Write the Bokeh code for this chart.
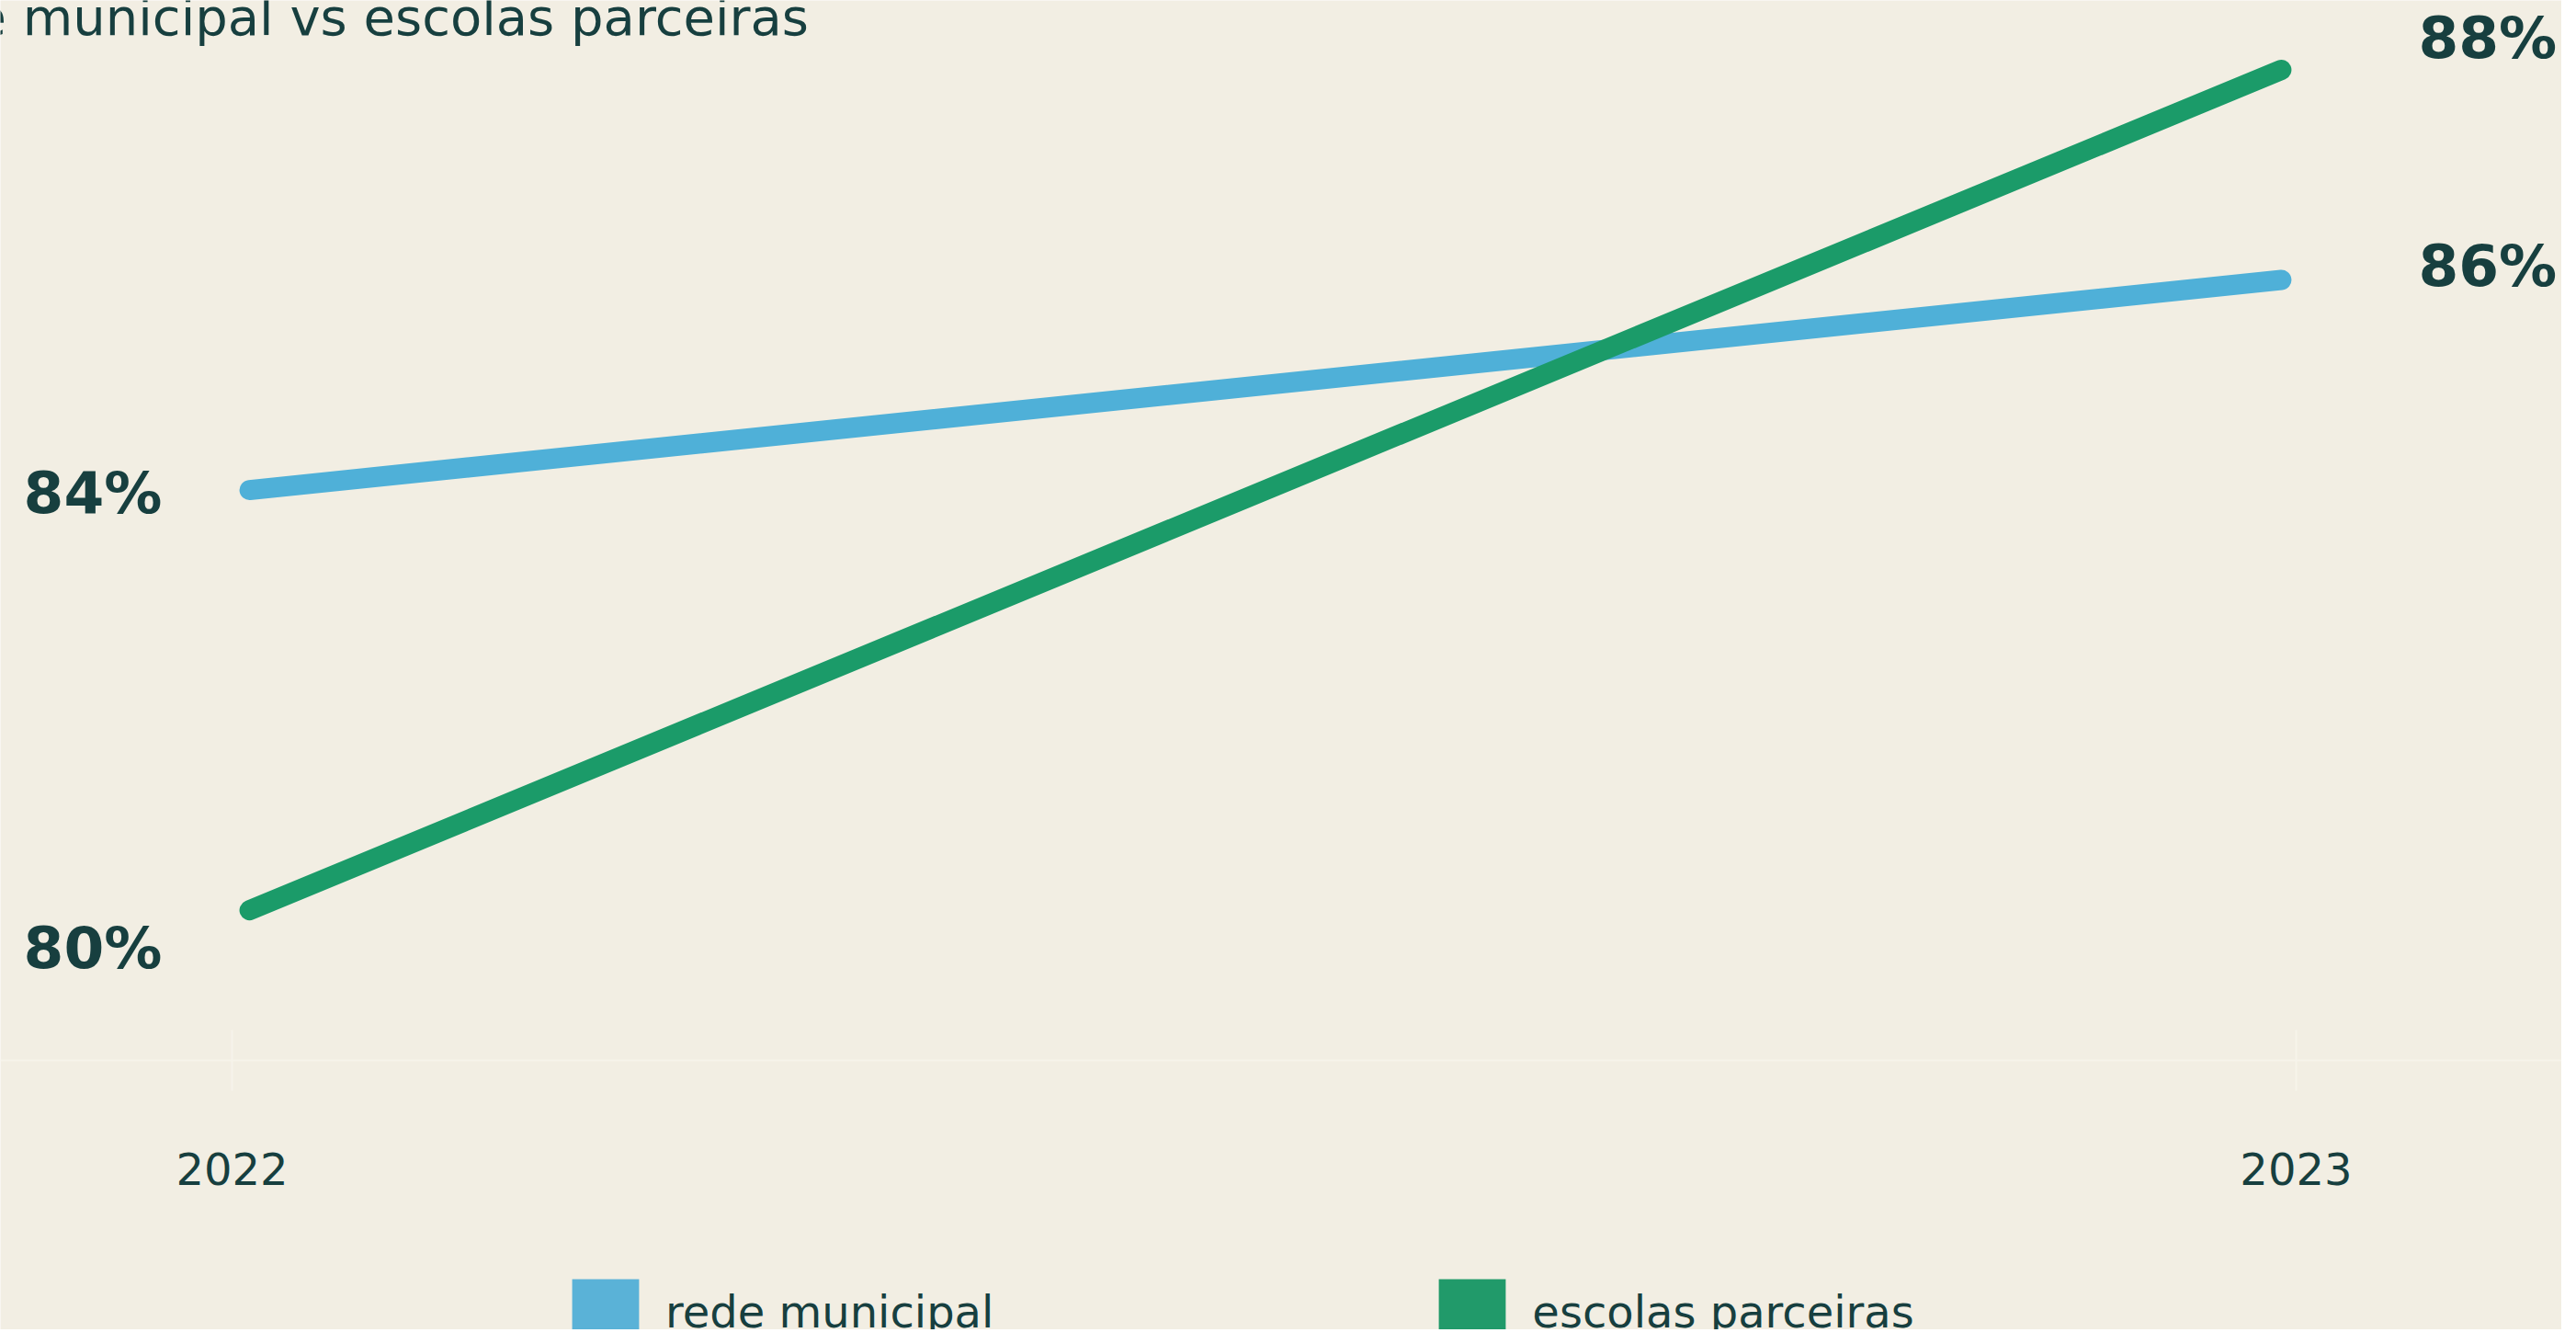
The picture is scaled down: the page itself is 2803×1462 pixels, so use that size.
from bokeh.plotting import figure
from bokeh.models import (ColumnDataSource, Range1d, LinearAxis, FixedTicker,
                          Legend, LegendItem, Label)
from bokeh.core.properties import value
from bokeh.embed import file_html
from bokeh.resources import INLINE

# ---- data ----
years = [2022, 2023]
year_labels = ["2022", "2023"]
series_names = ["rede municipal", "escolas parceiras"]
rede_municipal = [84, 86]
escolas_parceiras = [80, 88]
title_text = "e municipal vs escolas parceiras"

# ---- styles ----
BG = "#F2EEE3"
INK = "#173F3F"
BLUE = "#4FB0D8"
GREEN = "#1B9B69"
BLUE_SW = "#5AB2D7"
GREEN_SW = "#219A6A"
FAINT = "#F6F3EA"
FONT = "DejaVu Sans"

W, H = 2787, 1446

p = figure(width=W, height=H, output_backend="svg", toolbar_location=None,
           x_axis_type=None, y_axis_type=None,
           x_range=Range1d(2021.8774, 2023.1380),
           y_range=Range1d(76.006, 88.661))
p.extra_x_ranges = {"axis": Range1d(2021.8878, 2023.1287)}
p.extra_y_ranges = {"labels": Range1d(76.650, 88.331)}

p.min_border = 0
p.min_border_left = 0
p.min_border_right = 0
p.min_border_top = 0
p.min_border_bottom = 0
p.background_fill_color = BG
p.border_fill_color = BG
p.outline_line_color = None

# x axis (drawn inside the frame at the chart's baseline)
xa = LinearAxis(x_range_name="axis",
                ticker=FixedTicker(ticks=years),
                major_label_overrides={y: l for y, l in zip(years, year_labels)},
                fixed_location=78.57)
xa.axis_line_color = FAINT
xa.axis_line_width = 2
xa.major_tick_line_color = FAINT
xa.major_tick_line_width = 2
xa.major_tick_in = 33
xa.major_tick_out = 33
xa.minor_tick_line_color = None
xa.major_label_standoff = 67
xa.major_label_text_font = FONT
xa.major_label_text_font_size = "48px"
xa.major_label_text_color = INK
p.add_layout(xa, "below")

# lines
src_b = ColumnDataSource(dict(x=years, y=rede_municipal))
src_g = ColumnDataSource(dict(x=years, y=escolas_parceiras))
p.line("x", "y", source=src_b, line_color=BLUE, line_width=22, line_cap="round")
p.line("x", "y", source=src_g, line_color=GREEN, line_width=22, line_cap="round")

# end labels
left_vals = [rede_municipal[0], escolas_parceiras[0]]
right_vals = [rede_municipal[1], escolas_parceiras[1]]
src_l = ColumnDataSource(dict(x=[years[0]] * 2, y=left_vals,
                              t=[f"{v}%" for v in left_vals]))
src_r = ColumnDataSource(dict(x=[years[1]] * 2, y=right_vals,
                              t=[f"{v}%" for v in right_vals]))
for src, off in ((src_l, -246), (src_r, 149)):
    p.text("x", "y", text="t", source=src, y_range_name="labels",
           x_offset=off, text_align="left", text_baseline="middle",
           text_font=value(FONT), text_font_style="bold",
           text_font_size="63px", text_color=INK)

# title (partially cropped, as in reference)
p.add_layout(Label(x=-28, y=H - 18, x_units="screen", y_units="screen",
                   text=title_text, text_font=FONT, text_font_size="56px",
                   text_color=INK, text_baseline="alphabetic"))

# legend with square swatches (zero-area quads carry the legend glyphs)
sw_b = ColumnDataSource(dict(l=[years[0]], r=[years[0]],
                             t=[rede_municipal[0]], b=[rede_municipal[0]]))
sw_g = ColumnDataSource(dict(l=[years[0]], r=[years[0]],
                             t=[escolas_parceiras[0]], b=[escolas_parceiras[0]]))
qb = p.quad(left="l", right="r", top="t", bottom="b", source=sw_b,
            fill_color=BLUE_SW, line_color=None)
qg = p.quad(left="l", right="r", top="t", bottom="b", source=sw_g,
            fill_color=GREEN_SW, line_color=None)
legend = Legend(items=[LegendItem(label=series_names[0], renderers=[qb]),
                       LegendItem(label=series_names[1], renderers=[qg])],
                orientation="horizontal", location=(613, -26),
                glyph_width=91, glyph_height=90, label_standoff=20,
                spacing=475, padding=0, margin=0,
                label_text_font=FONT, label_text_font_size="48px",
                label_text_color=INK, border_line_color=None,
                background_fill_alpha=0)
p.add_layout(legend, "center")

open("out.html", "w").write(file_html(p, INLINE))
